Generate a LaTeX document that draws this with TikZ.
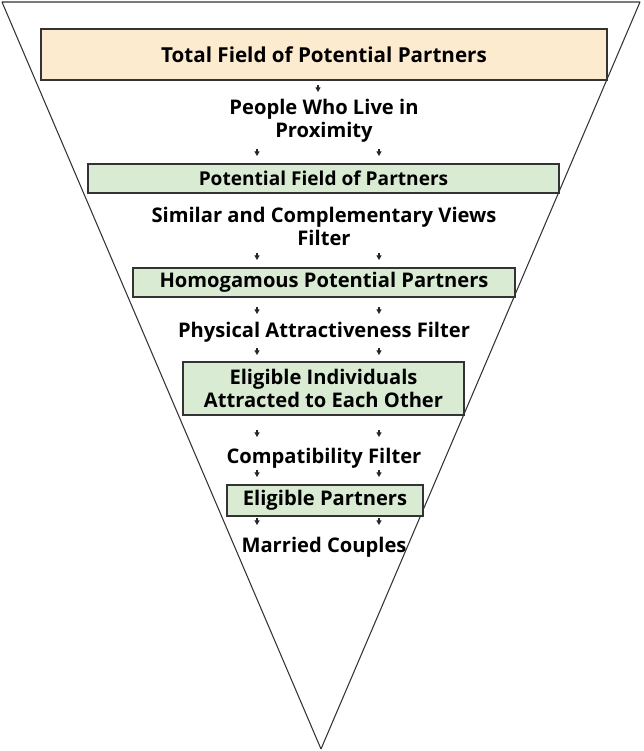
\documentclass[tikz,border=0pt]{standalone}
\usepackage{fontspec}
\setmainfont{Open Sans}
\usetikzlibrary{arrows.meta, positioning}
\definecolor{peach}{HTML}{FDEBD0}
\definecolor{sage}{HTML}{D9EBD3}
\definecolor{edge}{HTML}{333333}
\newlength\pxu
\setlength\pxu{0.3mm}

\begin{document}
\begin{tikzpicture}[
    x=0.3mm, y=-0.3mm,
    font=\bfseries\fontsize{17.2}{19.6}\selectfont,
    stage/.style={draw=edge, line width=0.9pt, fill=sage, align=center, inner sep=0pt},
    topstage/.style={stage, fill=peach},
    filt/.style={align=center, inner sep=0pt},
    notch/.style={-{Triangle[width=4.4pt,length=4pt]}, line width=0.9pt, color=black!85}
]
\useasboundingbox (0,0) rectangle (643,751);

% =====================================================
% FUNNEL OUTLINE
% =====================================================
\coordinate (tl) at (2,2);
\coordinate (tr) at (640,2);
\coordinate (apex) at (321,749);
\draw[edge, line width=0.9pt, line join=bevel] (tl) -- (tr) -- (apex) -- cycle;

% =====================================================
% STAGES (boxes)
% =====================================================
\node[topstage, minimum width=566\pxu, minimum height=51\pxu] (total) at (324,54.5)
    {\fontsize{17.6}{20}\selectfont Total Field of Potential Partners};
\node[stage, minimum width=471\pxu, minimum height=29\pxu] (potfield) at (323.5,178.5)
    {\fontsize{16.3}{19}\selectfont Potential Field of Partners};
\node[stage, minimum width=382\pxu, minimum height=29\pxu] (homog) at (324,282.5)
    {Homogamous Potential Partners};
\node[stage, minimum width=281\pxu, minimum height=53\pxu] (eligind) at (323.5,388.5)
    {Eligible Individuals\\Attracted to Each Other};
\node[stage, minimum width=196\pxu, minimum height=31\pxu] (eligpart) at (325,500.5)
    {Eligible Partners};

% =====================================================
% FILTERS (labels between stages)
% =====================================================
\node[filt] (proximity) at (324,121) {People Who Live in\\Proximity};
\node[filt] (views) at (324,226) {Similar and Complementary Views\\Filter};
\node[filt] (physical) at (324,332) {Physical Attractiveness Filter};
\node[filt] (compat) at (324,458) {Compatibility Filter};
\node[filt] (married) at (324,547) {Married Couples};

% small down marks
\draw[notch] (318,85) -- (318,92);
\foreach \y in {156,260,314,355,437,477,525}{
    \draw[notch] (257,\y-7) -- (257,\y);
    \draw[notch] (379,\y-7) -- (379,\y);
}

\end{tikzpicture}
\end{document}
